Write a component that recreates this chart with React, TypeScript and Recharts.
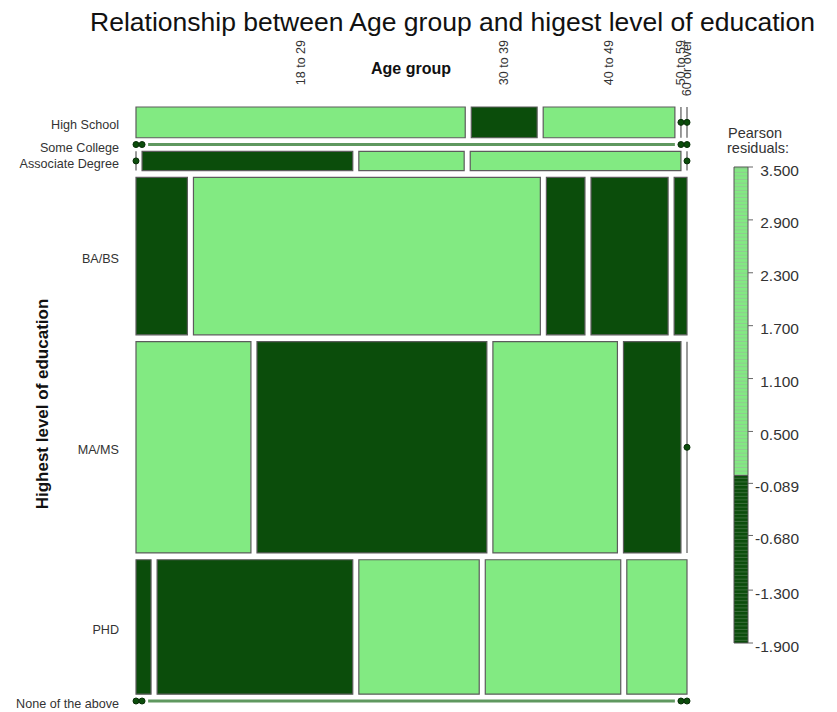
import {
  Bar,
  ComposedChart,
  ReferenceArea,
  ReferenceLine,
  Scatter,
  XAxis,
  YAxis,
} from "recharts";

// counts per education level, split by age group
const ageGroups = ["18 to 29", "30 to 39", "40 to 49", "50 to 59", "60 or over"];
const educationLevels = [
  "High School",
  "Some College",
  "Associate Degree",
  "BA/BS",
  "MA/MS",
  "PHD",
  "None of the above",
];
const highSchool = [5, 1, 2, 0, 0];
const someCollege = [0, 0, 0, 0, 0];
const associateDegree = [0, 2, 1, 2, 0];
const baBs = [4, 27, 3, 6, 1];
const maMs = [12, 24, 13, 6, 0];
const phd = [1, 13, 8, 9, 4];
const noneOfTheAbove = [0, 0, 0, 0, 0];

const legendTicks = [3.5, 2.9, 2.3, 1.7, 1.1, 0.5, -0.089, -0.68, -1.3, -1.9];
const legendLabels = ["3.500", "2.900", "2.300", "1.700", "1.100", "0.500", "-0.089", "-0.680", "-1.300", "-1.900"];

const counts = [highSchool, someCollege, associateDegree, baBs, maMs, phd, noneOfTheAbove];

const LIGHT = "#82ea82";
const DARK = "#0b4d0b";
const BORDER = "#5c5c5c";
const FONT = "'Liberation Sans', Arial, Helvetica, sans-serif";

const X_GAP = 0.0115; // gap between tiles, share of row width
const Y_GAP = 1.77; // gap between rows, in counts
const EMPTY_ROW_SPAN = 2; // vcd draws an empty row as one line in this slot

const rowTotals = counts.map((r) => r.reduce((a, b) => a + b, 0));
const colTotals = ageGroups.map((_, j) => counts.reduce((s, r) => s + r[j], 0));
const total = rowTotals.reduce((a, b) => a + b, 0);

const xMax = 1 + (ageGroups.length - 1) * X_GAP;
const yMax = total + (educationLevels.length - 1) * Y_GAP;

type Tile = { row: number; col: number; x1: number; x2: number; y1: number; y2: number; residual: number };

const tiles: Tile[] = [];
const rowCenters: number[] = [];
let yCursor = 0;
counts.forEach((row, i) => {
  const h = rowTotals[i];
  const shares = h > 0 ? row.map((c) => c / h) : row.map((_, j) => (j === EMPTY_ROW_SPAN ? 1 : 0));
  let xCursor = 0;
  row.forEach((c, j) => {
    const expected = (h * colTotals[j]) / total;
    const residual = expected > 0 ? (c - expected) / Math.sqrt(expected) : 0;
    tiles.push({ row: i, col: j, x1: xCursor, x2: xCursor + shares[j], y1: yCursor, y2: yCursor + h, residual });
    xCursor += shares[j] + X_GAP;
  });
  rowCenters.push(yCursor + h / 2);
  yCursor += h + Y_GAP;
});

const topTicks = tiles.filter((t) => t.row === 0).map((t) => (t.x1 + t.x2) / 2);
const boxes = tiles.filter((t) => t.x2 > t.x1 && t.y2 > t.y1);
const flatRows = tiles.filter((t) => t.x2 > t.x1 && t.y2 === t.y1);
const thinCols = tiles.filter((t) => t.x2 === t.x1 && t.y2 > t.y1);
const zeroDots = tiles
  .filter((t) => t.x2 === t.x1)
  .map((t) => ({ x: t.x1, y: (t.y1 + t.y2) / 2 }));

// legend bar: negative part below 0, positive part above
const legendMax = legendTicks[0];
const legendMin = legendTicks[legendTicks.length - 1];
const legendData = [{ k: "residuals", neg: legendMin, pos: legendMax }];

const AgeTick = (props: any) => {
  const { x, payload } = props;
  const idx = topTicks.findIndex((v) => Math.abs(v - payload.value) < 1e-6);
  return (
    <text
      x={x}
      y={40}
      transform={`rotate(-90, ${x}, 40)`}
      textAnchor="end"
      dominantBaseline="central"
      fontSize={12.5}
      fontFamily={FONT}
      fill="#333"
    >
      {ageGroups[idx]}
    </text>
  );
};

const EduTick = (props: any) => {
  const { y, payload } = props;
  const idx = rowCenters.findIndex((v) => Math.abs(v - payload.value) < 1e-6);
  return (
    <text x={119} y={y + 3} textAnchor="end" dominantBaseline="central" fontSize={12.6} fontFamily={FONT} fill="#333">
      {educationLevels[idx]}
    </text>
  );
};

const LegendTick = (props: any) => {
  const { x, y, payload } = props;
  const idx = legendTicks.findIndex((v) => Math.abs(v - payload.value) < 1e-6);
  return (
    <text x={x + 44} y={y + 3} textAnchor="end" dominantBaseline="central" fontSize={15.5} fontFamily={FONT} fill="#333">
      {legendLabels[idx]}
    </text>
  );
};

export default function App() {
  return (
    <div style={{ position: "absolute", left: 0, top: 0, width: 837, height: 712, background: "#fff" }}>
      <svg width={0} height={0} style={{ position: "absolute" }}>
        <defs>
          <pattern id="lightStripes" patternUnits="userSpaceOnUse" width={20} height={3.6}>
            <rect width={20} height={3.6} fill={LIGHT} />
            <rect y={2.6} width={20} height={1} fill="#92c892" />
          </pattern>
          <pattern id="darkStripes" patternUnits="userSpaceOnUse" width={20} height={3.6}>
            <rect width={20} height={3.6} fill={DARK} />
            <rect y={2.6} width={20} height={1} fill="#3a6e3a" />
          </pattern>
        </defs>
      </svg>

      <div style={{ position: "absolute", left: 0, top: 0, width: 837, height: 712 }}>
        <ComposedChart width={837} height={712} margin={{ top: 47, right: 150, bottom: 11, left: 16 }}>
          <XAxis
            type="number"
            dataKey="x"
            orientation="top"
            domain={[0, xMax]}
            ticks={topTicks}
            interval={0}
            height={60}
            axisLine={false}
            tickLine={false}
            tick={<AgeTick />}
          />
          <YAxis
            type="number"
            dataKey="y"
            domain={[0, yMax]}
            reversed
            ticks={rowCenters}
            interval={0}
            width={120}
            axisLine={false}
            tickLine={false}
            tick={<EduTick />}
          />
          {boxes.map((t) => (
            <ReferenceArea
              key={`b-${t.row}-${t.col}`}
              x1={t.x1}
              x2={t.x2}
              y1={t.y1}
              y2={t.y2}
              fill={t.residual > 0 ? LIGHT : DARK}
              fillOpacity={1}
              stroke={BORDER}
              strokeWidth={1.2}
              ifOverflow="visible"
            />
          ))}
          {flatRows.map((t) => (
            <ReferenceLine
              key={`h-${t.row}-${t.col}`}
              segment={[
                { x: t.x1, y: t.y1 },
                { x: t.x2, y: t.y1 },
              ]}
              stroke="#5f985f"
              strokeWidth={3}
              ifOverflow="visible"
            />
          ))}
          {thinCols.map((t) => (
            <ReferenceLine
              key={`v-${t.row}-${t.col}`}
              segment={[
                { x: t.x1, y: t.y1 },
                { x: t.x1, y: t.y2 },
              ]}
              stroke="#7a7a7a"
              strokeWidth={1.5}
              ifOverflow="visible"
            />
          ))}
          <Scatter
            data={zeroDots}
            isAnimationActive={false}
            shape={(p: any) => <circle cx={p.cx} cy={p.cy} r={3} fill={DARK} stroke="#082f08" strokeWidth={1} />}
          />
        </ComposedChart>
      </div>

      <div style={{ position: "absolute", left: 700, top: 0, width: 137, height: 712 }}>
        <ComposedChart
          width={137}
          height={712}
          data={legendData}
          stackOffset="sign"
          barCategoryGap={0}
          margin={{ top: 167, right: 29, bottom: 69, left: 34 }}
        >
          <XAxis type="category" dataKey="k" hide />
          <YAxis
            type="number"
            orientation="right"
            domain={[legendMin, legendMax]}
            ticks={legendTicks}
            interval={0}
            width={60}
            axisLine={false}
            tickLine={{ stroke: "#666" }}
            tickSize={5}
            tick={<LegendTick />}
          />
          <Bar
            dataKey="neg"
            stackId="r"
            fill="url(#darkStripes)"
            stroke="#555"
            strokeWidth={1}
            isAnimationActive={false}
          />
          <Bar
            dataKey="pos"
            stackId="r"
            fill="url(#lightStripes)"
            stroke="#555"
            strokeWidth={1}
            isAnimationActive={false}
          />
        </ComposedChart>
      </div>

      <svg width={837} height={712} style={{ position: "absolute", left: 0, top: 0, pointerEvents: "none" }}>
        <text x={452.5} y={31} textAnchor="middle" fontSize={26.5} fontFamily={FONT} fill="#111">
          Relationship between Age group and higest level of education
        </text>
        <text x={411} y={74} textAnchor="middle" fontSize={16} fontWeight="bold" fontFamily={FONT} fill="#111">
          Age group
        </text>
        <text
          x={42}
          y={404}
          transform="rotate(-90, 42, 404)"
          textAnchor="middle"
          dominantBaseline="central"
          fontSize={17}
          fontWeight="bold"
          fontFamily={FONT}
          fill="#111"
        >
          Highest level of education
        </text>
        <text x={728} y={138} fontSize={14.5} fontFamily={FONT} fill="#333">
          Pearson
        </text>
        <text x={727} y={153} fontSize={14.5} fontFamily={FONT} fill="#333">
          residuals:
        </text>
      </svg>
    </div>
  );
}
